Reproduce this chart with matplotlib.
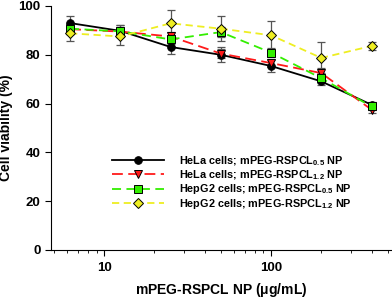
import matplotlib
matplotlib.use("Agg")
import matplotlib.pyplot as plt
from matplotlib.ticker import NullFormatter

plt.rcParams['font.family'] = ['Liberation Sans', 'DejaVu Sans']
plt.rcParams['font.weight'] = 'bold'
plt.rcParams['mathtext.fontset'] = 'custom'
plt.rcParams['mathtext.rm'] = 'Liberation Sans:bold'
plt.rcParams['mathtext.bf'] = 'Liberation Sans:bold'
plt.rcParams['mathtext.default'] = 'bf'

# concentrations (ug/mL)
conc = [6.25, 12.5, 25, 50, 100, 200, 400]

hela_05 = [93.0, 89.8, 83.2, 80.0, 75.4, 69.1, 59.5]
hela_05_err = [2.8, 2.5, 3.0, 3.0, 2.5, 1.5, 1.2]
hela_12 = [90.5, 89.5, 87.5, 80.5, 76.6, 72.5, 57.5]
hela_12_err = [2.0, 2.0, 2.0, 2.0, 1.5, 2.0, 1.5]
hepg2_05 = [90.7, 89.6, 86.3, 89.3, 80.9, 70.4, 58.8]
hepg2_05_err = [2.0, 2.5, 2.0, 2.0, 2.0, 2.0, 1.5]
hepg2_12 = [88.8, 87.5, 92.9, 90.7, 88.0, 78.7, 83.6]
hepg2_12_err = [3.0, 3.5, 5.5, 5.0, 6.0, 6.5, 1.5]

xtick_vals = [10, 100]
xtick_labels = ['10', '100']

labels = [r'HeLa cells; mPEG-RSPCL$_{0.5}$ NP',
          r'HeLa cells; mPEG-RSPCL$_{1.2}$ NP',
          r'HepG2 cells; mPEG-RSPCL$_{0.5}$ NP',
          r'HepG2 cells; mPEG-RSPCL$_{1.2}$ NP']

fig = plt.figure(figsize=(3.92, 3.0), dpi=100)
ax = fig.add_axes([0.130, 0.167, 0.868, 0.813])

series = [
    (hela_05, hela_05_err, 'black', '-', 'o', (None, None)),
    (hela_12, hela_12_err, '#ff1a1a', '--', 'v', (6, 3)),
    (hepg2_05, hepg2_05_err, '#33ee00', '--', 's', (5, 3)),
    (hepg2_12, hepg2_12_err, '#eeee22', '--', 'D', (4, 2.5)),
]

for (y, e, c, ls, m, d), lab in zip(series, labels):
    ax.errorbar(conc, y, yerr=e, fmt='none', ecolor='#555555', elinewidth=0.9,
                capsize=3, capthick=0.9, zorder=2)
    line, = ax.plot(conc, y, color=c, linestyle=ls, linewidth=1.3, marker=m,
                    markersize=5.5 if m != 'D' else 5, markerfacecolor=c,
                    markeredgecolor='black', markeredgewidth=0.7, label=lab, zorder=3)
    if ls == '--':
        line.set_dashes(d)

ax.set_xscale('log')
ax.set_xlim(4.8, 525)
ax.set_ylim(0, 100)
ax.set_xticks(xtick_vals)
ax.set_xticklabels(xtick_labels)
ax.xaxis.set_minor_formatter(NullFormatter())
ax.set_yticks([0, 20, 40, 60, 80, 100])
ax.spines['top'].set_visible(False)
ax.spines['right'].set_visible(False)
ax.tick_params(direction='out', labelsize=9.5, length=4)
ax.tick_params(axis='x', pad=5)
ax.tick_params(which='minor', direction='out', length=2.5)
for t in ax.get_xticklabels() + ax.get_yticklabels():
    t.set_fontweight('bold')

ax.set_xlabel(r'mPEG-RSPCL NP ($\mathregular{\mu}$g/mL)', fontsize=10, fontweight='bold', labelpad=5)
ax.set_ylabel('Cell viability (%)', fontsize=10, fontweight='bold', labelpad=4)

leg = ax.legend(loc='lower left', bbox_to_anchor=(0.15, 0.12), frameon=False,
                handlelength=4.8, handletextpad=1.4, labelspacing=0.05,
                prop={'weight': 'bold', 'size': 7.8})

fig.savefig('out.png', dpi=100)
